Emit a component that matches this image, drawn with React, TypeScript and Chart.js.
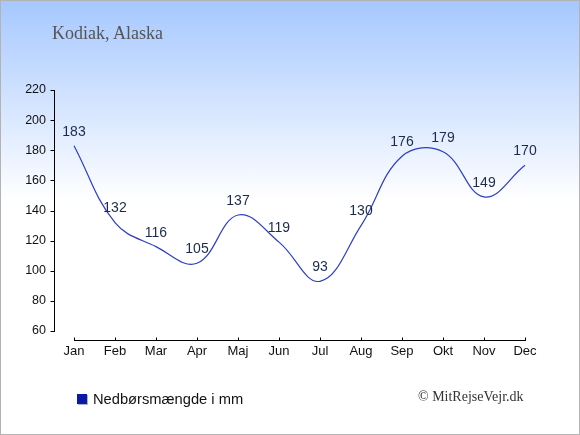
import React, { useEffect, useRef } from "react";
import { Chart, registerables } from "chart.js";

Chart.register(...registerables);

const months = ["Jan", "Feb", "Mar", "Apr", "Maj", "Jun", "Jul", "Aug", "Sep", "Okt", "Nov", "Dec"];
const precipitation = [183, 132, 116, 105, 137, 119, 93, 130, 176, 179, 149, 170];
const yTicks = [60, 80, 100, 120, 140, 160, 180, 200, 220];
const seriesLabel = "Nedbørsmængde i mm";
const titleText = "Kodiak, Alaska";
const copyrightText = "© MitRejseVejr.dk";

const LINE_COLOR = "#2f3ec2";
const LABEL_COLOR = "#1c2b4c";
const LEGEND_COLOR = "#0a1aa8";

const axesPlugin = {
  id: "customAxes",
  afterDraw(chart: any) {
    const ctx = chart.ctx;
    const x = chart.scales.x;
    const y = chart.scales.y;
    const area = chart.chartArea;
    ctx.save();
    ctx.strokeStyle = "#000";
    ctx.lineWidth = 1;
    // y axis
    const ax = Math.floor(area.left + 1) + 0.5;
    const yTop = y.getPixelForValue(yTicks[yTicks.length - 1]);
    const yBot = y.getPixelForValue(yTicks[0]);
    ctx.beginPath();
    ctx.moveTo(ax, Math.round(yTop));
    ctx.lineTo(ax, Math.round(yBot) + 1);
    yTicks.forEach((v) => {
      const py = Math.round(y.getPixelForValue(v)) + 0.5;
      ctx.moveTo(ax - 4, py);
      ctx.lineTo(ax, py);
    });
    ctx.stroke();
    // x axis
    const xy = Math.round(area.bottom + 9) + 0.5;
    const x0 = x.getPixelForValue(0);
    const x1 = x.getPixelForValue(months.length - 1);
    ctx.beginPath();
    ctx.moveTo(Math.round(x0), xy);
    ctx.lineTo(Math.round(x1) + 1, xy);
    months.forEach((_, i) => {
      const px = Math.round(x.getPixelForValue(i)) + 0.5;
      ctx.moveTo(px, xy - 3);
      ctx.lineTo(px, xy);
    });
    ctx.stroke();
    ctx.restore();
  },
};

const valueLabelPlugin = {
  id: "valueLabels",
  afterDatasetsDraw(chart: any) {
    const ctx = chart.ctx;
    const meta = chart.getDatasetMeta(0);
    const data = chart.data.datasets[0].data as number[];
    ctx.save();
    ctx.font = "14px 'Liberation Sans', Arial, sans-serif";
    ctx.fillStyle = LABEL_COLOR;
    ctx.textAlign = "center";
    ctx.textBaseline = "middle";
    meta.data.forEach((pt: any, i: number) => {
      ctx.fillText(String(data[i]), pt.x, pt.y - 14);
    });
    ctx.restore();
  },
};

export default function App() {
  const canvasRef = useRef<HTMLCanvasElement | null>(null);

  useEffect(() => {
    document.body.style.margin = "0";
    const canvas = canvasRef.current;
    if (!canvas) return;
    const chart = new Chart(canvas, {
      type: "line",
      data: {
        labels: months,
        datasets: [
          {
            label: seriesLabel,
            data: precipitation,
            borderColor: LINE_COLOR,
            backgroundColor: LEGEND_COLOR,
            borderWidth: 1.2,
            pointRadius: 0,
            pointHoverRadius: 0,
            tension: 0.4,
            fill: false,
          },
        ],
      },
      options: {
        responsive: false,
        animation: false,
        events: [],
        layout: { padding: { left: 0, top: 89, right: 33.5, bottom: 73 } },
        plugins: {
          legend: { display: false },
          title: { display: false },
          tooltip: { enabled: false },
        },
        scales: {
          x: {
            type: "category",
            offset: true,
            grid: { display: false, drawTicks: false, tickLength: 0 },
            border: { display: false },
            ticks: {
              color: "#111",
              font: { size: 13, family: "'Liberation Sans', Arial, sans-serif" },
              padding: 12.5,
              maxRotation: 0,
              autoSkip: false,
            },
            afterFit(scale: any) {
              scale.height = 30;
            },
          },
          y: {
            min: 60,
            max: 220,
            grid: { display: false, drawTicks: false, tickLength: 0 },
            border: { display: false },
            afterBuildTicks(scale: any) {
              scale.ticks = yTicks.map((v) => ({ value: v }));
            },
            ticks: {
              color: "#111",
              font: { size: 12.5, family: "'Liberation Sans', Arial, sans-serif" },
              padding: 7.5,
            },
            afterFit(scale: any) {
              scale.width = 52.5;
            },
          },
        },
      },
      plugins: [axesPlugin, valueLabelPlugin],
    });
    return () => chart.destroy();
  }, []);

  return (
    <div
      style={{
        position: "relative",
        width: 580,
        height: 435,
        boxSizing: "border-box",
        border: "1px solid #b3b3b3",
        background: "linear-gradient(to bottom, #a6c8ff 0px, #ffffff 200px, #ffffff 435px)",
        overflow: "hidden",
      }}
    >
      <canvas
        ref={canvasRef}
        width={578}
        height={433}
        style={{ position: "absolute", left: 0, top: 0, width: 578, height: 433 }}
      />
      <div
        style={{
          position: "absolute",
          left: 51,
          top: 21,
          fontFamily: "'Liberation Serif', 'Times New Roman', serif",
          fontSize: 18,
          lineHeight: "22px",
          color: "#555",
          whiteSpace: "nowrap",
        }}
      >
        {titleText}
      </div>
      <div
        style={{
          position: "absolute",
          left: 76,
          top: 388,
          height: 20,
          display: "flex",
          alignItems: "center",
          fontFamily: "'Liberation Sans', Arial, sans-serif",
          fontSize: 14.7,
          color: "#111",
          whiteSpace: "nowrap",
        }}
      >
        <span
          style={{
            display: "inline-block",
            width: 10,
            height: 10,
            background: LEGEND_COLOR,
            boxShadow: "1px 1px 0 #b0b0c8",
            marginRight: 6,
          }}
        />
        {seriesLabel}
      </div>
      <div
        style={{
          position: "absolute",
          left: 417,
          top: 387,
          lineHeight: "18px",
          fontFamily: "'Liberation Serif', 'Times New Roman', serif",
          fontSize: 14,
          color: "#333",
          whiteSpace: "nowrap",
        }}
      >
        {copyrightText}
      </div>
    </div>
  );
}
